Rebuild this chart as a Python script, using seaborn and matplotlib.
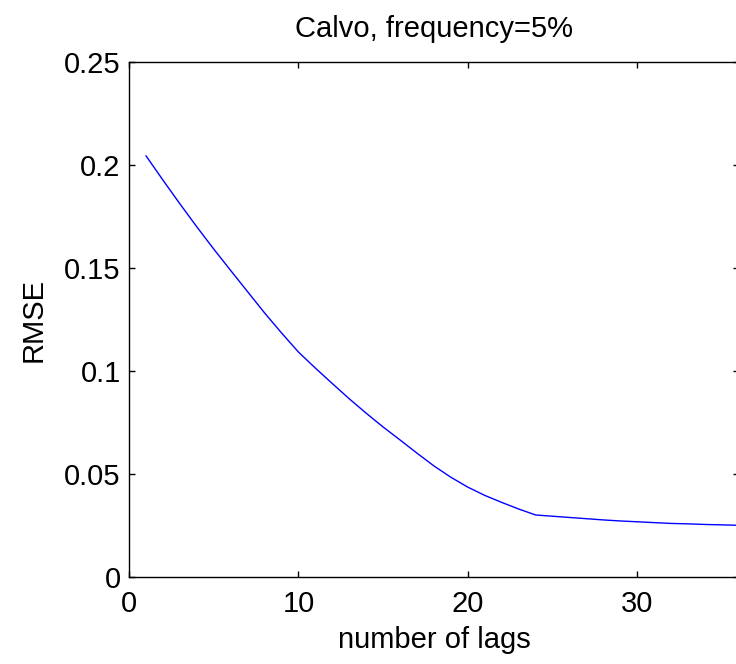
import matplotlib
matplotlib.use("Agg")
import matplotlib.pyplot as plt
import seaborn as sns
import pandas as pd

lags = list(range(1, 37))
rmse = [0.2045, 0.1927, 0.1812, 0.1700, 0.1592, 0.1488, 0.1385, 0.1282, 0.1185, 0.1092,
        0.1014, 0.0939, 0.0865, 0.0795, 0.0728, 0.0665, 0.0601, 0.0539, 0.0484, 0.0436,
        0.0396, 0.0362, 0.0330, 0.0301, 0.0295, 0.0289, 0.0283, 0.0277, 0.0272, 0.0268,
        0.0264, 0.0260, 0.0258, 0.0255, 0.0253, 0.0251]
xticks = [0, 10, 20, 30]
yticks = [0, 0.05, 0.1, 0.15, 0.2, 0.25]
yticklabels = ["0", "0.05", "0.1", "0.15", "0.2", "0.25"]

sns.set_theme(style="ticks")
plt.rcParams["font.family"] = ["Liberation Sans", "DejaVu Sans"]
plt.rcParams["text.color"] = "black"
plt.rcParams["axes.labelcolor"] = "black"

fig = plt.figure(figsize=(7.36, 6.64), dpi=100)
ax = fig.add_axes([129 / 736, 87 / 664, 610 / 736, 515 / 664])

df = pd.DataFrame({"lags": lags, "rmse": rmse})
sns.lineplot(data=df, x="lags", y="rmse", ax=ax, color="blue", linewidth=1.0)

ax.set_xlim(0, 36)
ax.set_ylim(0, 0.25)
ax.set_xticks(xticks)
ax.set_xticklabels([str(t) for t in xticks])
ax.set_yticks(yticks)
ax.set_yticklabels(yticklabels)
ax.tick_params(direction="in", length=4.5, width=1, top=True, right=True,
               labelsize=21, colors="black")
ax.tick_params(axis="x", pad=9)
ax.tick_params(axis="y", pad=6)
for s in ax.spines.values():
    s.set_visible(True)
    s.set_color("black")
    s.set_linewidth(1.0)

ax.set_xlabel("number of lags", fontsize=21, labelpad=6, color="black")
ax.set_ylabel("RMSE", fontsize=21, labelpad=12, color="black")
ax.set_title("Calvo, frequency=5%", fontsize=21, pad=18, color="black")

fig.savefig("out.png", dpi=100)
